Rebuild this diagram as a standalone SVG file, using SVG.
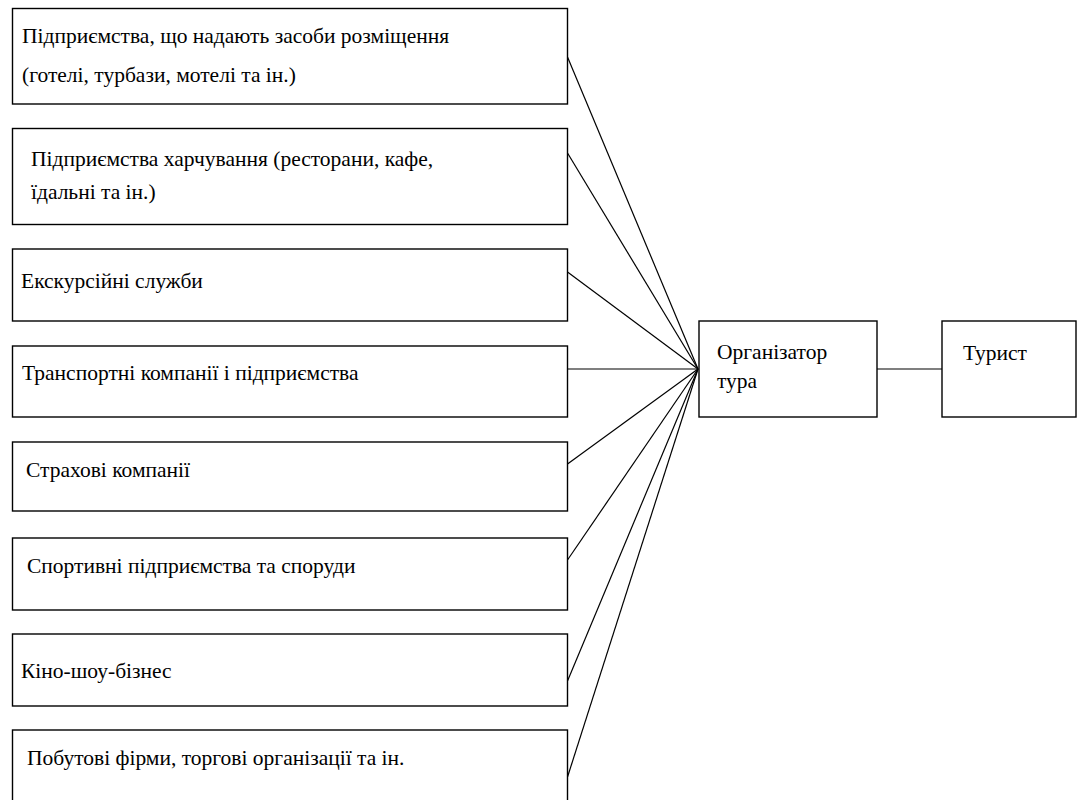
<svg xmlns="http://www.w3.org/2000/svg" width="1080" height="800" viewBox="0 0 1080 800">
<style>
.box{fill:#fff;stroke:#000;stroke-width:1.4}
.t{font-family:"Times New Roman",serif;font-size:21.5px;fill:#000}
.c{stroke:#000;stroke-width:1.2;fill:none}
</style>
<rect width="1080" height="800" fill="#fff"/>
<g id="connectors">
<line class="c" x1="567.5" y1="57" x2="698" y2="369"/>
<line class="c" x1="567.5" y1="153" x2="698" y2="369"/>
<line class="c" x1="567.5" y1="272" x2="698" y2="369"/>
<line class="c" x1="567.5" y1="369" x2="698" y2="369"/>
<line class="c" x1="567.5" y1="464" x2="698" y2="369"/>
<line class="c" x1="567.5" y1="560" x2="698" y2="369"/>
<line class="c" x1="567.5" y1="681" x2="698" y2="369"/>
<line class="c" x1="567.5" y1="777" x2="698" y2="369"/>
<line class="c" x1="877" y1="369" x2="942" y2="369"/>
</g>
<g id="n1"><rect class="box" x="12.5" y="8.5" width="555" height="95.5"/>
<text class="t" x="22" y="43">Підприємства, що надають засоби розміщення</text>
<text class="t" x="22" y="82">(готелі, турбази, мотелі та ін.)</text></g>
<g id="n2"><rect class="box" x="12.5" y="128.5" width="555" height="96"/>
<text class="t" x="31" y="166">Підприємства харчування (ресторани, кафе,</text>
<text class="t" x="31" y="199">їдальні та ін.)</text></g>
<g id="n3"><rect class="box" x="12.5" y="249" width="555" height="72"/>
<text class="t" x="21" y="288">Екскурсійні служби</text></g>
<g id="n4"><rect class="box" x="12.5" y="346" width="555" height="71"/>
<text class="t" x="22" y="380">Транспортні компанії і підприємства</text></g>
<g id="n5"><rect class="box" x="12.5" y="442" width="555" height="69"/>
<text class="t" x="26" y="477">Страхові компанії</text></g>
<g id="n6"><rect class="box" x="12.5" y="538" width="555" height="72"/>
<text class="t" x="27" y="573">Спортивні підприємства та споруди</text></g>
<g id="n7"><rect class="box" x="12.5" y="634" width="555" height="72"/>
<text class="t" x="21" y="678">Кіно-шоу-бізнес</text></g>
<g id="n8"><rect class="box" x="12.5" y="730" width="555" height="80"/>
<text class="t" x="27" y="765">Побутові фірми, торгові організації та ін.</text></g>
<g id="organizer"><rect class="box" x="699" y="321" width="178" height="96"/>
<text class="t" x="717" y="359">Організатор</text>
<text class="t" x="717" y="388">тура</text></g>
<g id="tourist"><rect class="box" x="942" y="321" width="134" height="96"/>
<text class="t" x="963" y="360">Турист</text></g>
</svg>
